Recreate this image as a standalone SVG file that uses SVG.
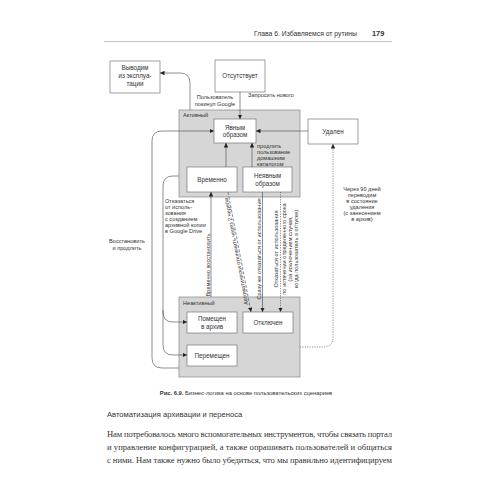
<svg xmlns="http://www.w3.org/2000/svg" width="500" height="500" viewBox="0 0 500 500">
<defs>
<marker id="ah" viewBox="0 0 6 6" refX="6" refY="3" markerWidth="4.5" markerHeight="4.5" orient="auto" markerUnits="userSpaceOnUse">
<path d="M0,0 L6,3 L0,6 Z" fill="#222"/>
</marker>
<style>
.t{font-family:"Liberation Sans",Arial,sans-serif;fill:#333}
.n{font-size:6.3px;text-anchor:middle}
.l{font-size:5.6px}
.box{fill:#fff;stroke:#777;stroke-width:0.7}
.grp{fill:#d6d6d6;stroke:#888;stroke-width:0.7}
.c{fill:none;stroke:#444;stroke-width:0.6}
.dash{stroke-dasharray:3 1.5}
.dot{stroke-dasharray:1.2 1.2}
.body{font-family:"Liberation Serif","Times New Roman",serif;font-size:8.6px;fill:#333}
</style>
</defs>
<rect width="500" height="500" fill="#fff"/>

<!-- page header -->
<text class="t" x="357" y="36" font-size="6.8" text-anchor="end">Глава 6. Избавляемся от рутины</text>
<text class="t" x="372" y="36" font-size="7.4" font-weight="bold">179</text>
<line x1="104" y1="41.5" x2="392" y2="41.5" stroke="#999" stroke-width="0.6"/>

<!-- containers -->
<g id="active">
<rect class="grp" x="179" y="110" width="121" height="87"/>
<text class="t l" x="183" y="117">Активный</text>
</g>
<g id="inactive">
<rect class="grp" x="179" y="297" width="121" height="80"/>
<text class="t l" x="183" y="305">Неактивный</text>
</g>

<g id="vyvodim">
<rect class="box" x="110" y="61" width="50" height="32"/>
<text class="t n" x="135" y="70">Выводим</text>
<text class="t n" x="135" y="78">из эксплуа-</text>
<text class="t n" x="135" y="86">тации</text>
</g>
<g id="otsutstvuet">
<rect class="box" x="215" y="60" width="50" height="32"/>
<text class="t n" x="240" y="78">Отсутствует</text>
</g>
<g id="yavnym">
<rect class="box" x="214" y="119" width="42" height="24"/>
<text class="t n" x="235" y="129.5">Явным</text>
<text class="t n" x="235" y="137">образом</text>
</g>
<g id="udalen">
<rect class="box" x="308" y="119" width="50" height="25"/>
<text class="t n" x="333" y="133.5">Удален</text>
</g>
<g id="vremenno">
<rect class="box" x="187" y="167" width="50" height="25"/>
<text class="t n" x="212" y="181.5">Временно</text>
</g>
<g id="neyavnym">
<rect class="box" x="243" y="167" width="49" height="25"/>
<text class="t n" x="267.5" y="178">Неявным</text>
<text class="t n" x="267.5" y="186">образом</text>
</g>
<g id="pomeshchen">
<rect class="box" x="187" y="312" width="50" height="21"/>
<text class="t n" x="212" y="321">Помещен</text>
<text class="t n" x="212" y="329">в архив</text>
</g>
<g id="otklyuchen">
<rect class="box" x="243" y="312" width="50" height="21"/>
<text class="t n" x="268" y="325">Отключен</text>
</g>
<g id="peremeshchen">
<rect class="box" x="187" y="345" width="50" height="21"/>
<text class="t n" x="212" y="358">Перемещен</text>
</g>

<g id="connectors">
<path class="c" d="M190,110 V83 Q190,73 180,73 H160" marker-end="url(#ah)"/>
<path class="c" d="M240,92 V119" marker-end="url(#ah)"/>
<path class="c" d="M308,131 H256" marker-end="url(#ah)"/>
<path class="c" d="M179,368 H162 Q152,368 152,358 V141 Q152,131 162,131 H214" marker-end="url(#ah)"/>
<path class="c" d="M226,167 V143" marker-end="url(#ah)"/>
<path class="c" d="M252,167 V143" marker-end="url(#ah)"/>
<path class="c" d="M179,176 H173 Q163,176 163,186 V312 Q163,322 173,322 H187" marker-end="url(#ah)"/>
<path class="c" d="M163,310 V345 Q163,355 173,355 H187" marker-end="url(#ah)"/>
<path class="c" d="M211,297 V192" marker-end="url(#ah)"/>
<path class="c dash" d="M228,192 L251,312" marker-end="url(#ah)"/>
<path class="c" d="M262.5,192 V312" marker-end="url(#ah)"/>
<path class="c dot" d="M280.5,192 V312" marker-end="url(#ah)"/>
<path class="c dot" d="M300,347 H323 Q333,347 333,337 V144" marker-end="url(#ah)"/>
</g>

<g id="labels" class="t l">
<text x="215" y="99" text-anchor="middle">Пользователь</text>
<text x="215" y="105.5" text-anchor="middle">покинул Google</text>
<text x="248" y="97">Запросить нового</text>
<text x="257" y="147.5">продлить</text>
<text x="257" y="153.5">пользование</text>
<text x="257" y="159.5">домашним</text>
<text x="257" y="165.5">каталогом</text>
<text x="165" y="203">Отказаться</text>
<text x="165" y="209">от исполь-</text>
<text x="165" y="215">зования</text>
<text x="165" y="221">с созданием</text>
<text x="165" y="227">архивной копии</text>
<text x="165" y="233">в Google Drive</text>
<text x="127" y="243" text-anchor="middle">Восстановить</text>
<text x="127" y="249.5" text-anchor="middle">и продлить</text>
<text x="362" y="191" text-anchor="middle">Через 90 дней</text>
<text x="362" y="197" text-anchor="middle">переводим</text>
<text x="362" y="203" text-anchor="middle">в состояние</text>
<text x="362" y="209" text-anchor="middle">удаления</text>
<text x="362" y="215" text-anchor="middle">(с занесением</text>
<text x="362" y="221" text-anchor="middle">в архив)</text>
<text transform="translate(209.5,265) rotate(-90)" text-anchor="middle">Временно восстановить</text>
<text transform="translate(238,251) rotate(-100.8)" text-anchor="middle">Автоматически отключить через 2 недели</text>
<text transform="translate(261,249) rotate(-90)" text-anchor="middle">Сразу же отказаться от использования</text>
<text transform="translate(278,249) rotate(-90)" text-anchor="middle">Отказаться от использования<tspan x="0" dy="8">по истечении определенного срока</tspan><tspan x="0" dy="6">(за исключением случая,</tspan><tspan x="0" dy="6">когда пользователь в отпуске)</tspan></text>
</g>

<!-- caption and body -->
<text class="t" x="246" y="395" font-size="5.8" text-anchor="middle"><tspan font-weight="bold">Рис. 6.9.</tspan> Бизнес-логика на основе пользовательских сценариев</text>
<text class="t" x="107" y="417" font-size="7.6">Автоматизация архивации и переноса</text>
<text class="body" x="107" y="437" textLength="285" lengthAdjust="spacing">Нам потребовалось много вспомогательных инструментов, чтобы связать портал</text>
<text class="body" x="107" y="450" textLength="285" lengthAdjust="spacing">и управление конфигурацией, а также опрашивать пользователей и общаться</text>
<text class="body" x="107" y="463" textLength="285" lengthAdjust="spacing">с ними. Нам также нужно было убедиться, что мы правильно идентифицируем</text>
</svg>
